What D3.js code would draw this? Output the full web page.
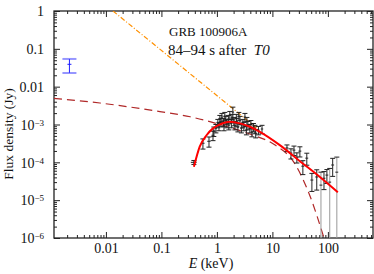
<!DOCTYPE html>
<meta charset="UTF-8">
<style>
    body { margin: 0; background: #fff; }
    svg text { font-family: "Liberation Serif", "Times New Roman", serif !important; fill: #111; }
</style>
<svg width="374" height="274"></svg>
<script src="https://cdn.jsdelivr.net/npm/d3@7"></script>
<script>

// X-ray / gamma-ray spectral points (keV, Jy)
var energy = [0.385, 0.56, 0.72, 0.85, 0.88, 0.96, 1.04, 1.09, 1.13, 1.18,
              1.23, 1.31, 1.34, 1.39, 1.45, 1.51, 1.61, 1.64, 1.71, 1.82,
              1.86, 1.94, 2.02, 2.11, 2.24, 2.29, 2.39, 2.49, 2.6, 2.76,
              2.94, 3.06, 3.2, 3.4, 3.47, 3.62, 3.93, 4.1, 4.27, 4.55,
              4.84, 5.0, 5.6, 6.5,
              18.3, 21.6, 24.5, 27.6, 31.3, 35.4, 41.7, 51.5, 63, 75,
              85, 96, 108, 122, 145];
var flux = [1.0e-4, 3.2e-4, 3.6e-4, 5.2e-4, 6.7e-4, 8.0e-4, 1.09e-3, 9.1e-4, 1.39e-3, 1.16e-3,
            1.57e-3, 1.16e-3, 9.1e-4, 1.67e-3, 1.31e-3, 1.09e-3, 1.39e-3, 9.6e-4, 1.77e-3, 1.09e-3,
            1.48e-3, 2.13e-3, 1.23e-3, 9.6e-4, 1.48e-3, 1.16e-3, 8.5e-4, 1.67e-3, 1.31e-3, 8.0e-4,
            1.09e-3, 9.1e-4, 1.57e-3, 7.1e-4, 1.23e-3, 9.6e-4, 8.0e-4, 1.02e-3, 6.3e-4, 8.5e-4,
            7.6e-4, 5.9e-4, 7.1e-4, 7.6e-4,
            2.4e-4, 1.75e-4, 2.1e-4, 1.37e-4, 1.98e-4, 7.9e-5, 1.29e-4, 3.4e-5, 4.1e-5, 2.5e-5,
            3.8e-5, 4.6e-5, 3.0e-5, 8.5e-5, 5.5e-5];
// relative 1-sigma flux errors
var fluxErr = [0.12, 0.3, 0.3, 0.28, 0.28, 0.25, 0.25, 0.25, 0.25, 0.25,
               0.25, 0.25, 0.25, 0.25, 0.25, 0.25, 0.25, 0.25, 0.25, 0.25,
               0.25, 0.35, 0.25, 0.25, 0.25, 0.25, 0.25, 0.25, 0.25, 0.25,
               0.25, 0.25, 0.25, 0.25, 0.25, 0.25, 0.25, 0.25, 0.25, 0.25,
               0.25, 0.25, 0.25, 0.25,
               0.2, 0.3, 0.28, 0.3, 0.3, 0.4, 0.35, 0.5, 0.55, 1.2,
               0.5, 0.4, 1.3, 0.5, 1.5];
// relative half-width of energy bins
var binErr = [0.12, 0.07, 0.07, 0.06, 0.06, 0.05, 0.05, 0.05, 0.05, 0.05,
              0.05, 0.05, 0.05, 0.05, 0.05, 0.05, 0.05, 0.05, 0.05, 0.05,
              0.05, 0.05, 0.05, 0.05, 0.05, 0.05, 0.05, 0.05, 0.05, 0.05,
              0.05, 0.05, 0.05, 0.05, 0.05, 0.05, 0.05, 0.05, 0.05, 0.05,
              0.05, 0.05, 0.05, 0.05,
              0.06, 0.06, 0.06, 0.06, 0.06, 0.06, 0.06, 0.06, 0.06, 0.06,
              0.06, 0.06, 0.06, 0.06, 0.06];

// optical point
var optE = [0.0022], optF = [0.039], optLo = [0.023], optHi = [0.054];

// model curves [keV, Jy]
var modelTotal = [[0.385, 7.6e-5], [0.49, 2.6e-4], [0.65, 5.2e-4], [0.85, 7.9e-4], [1.13, 1.0e-3],
                  [1.71, 1.18e-3], [2.6, 1.07e-3], [3.93, 8.7e-4], [5.95, 6.4e-4], [13.6, 2.85e-4],
                  [31.3, 1.07e-4], [71.8, 4.1e-5], [151, 1.62e-5]];
var modelCutoff = [[0.00116, 4.9e-3], [0.0078, 3.7e-3], [0.027, 2.9e-3], [0.094, 2.2e-3], [0.33, 1.6e-3],
                   [1.13, 1.0e-3], [3.9, 5.6e-4], [11, 2.9e-4], [25, 9.5e-5], [47, 1.35e-5], [85, 1e-6]];
var modelPowerLaw = [[0.0134, 1], [5.5, 7.6e-4]];

var xTickValues = [0.01, 0.1, 1, 10, 100];
var xTickLabels = ["0.01", "0.1", "1", "10", "100"];
var yTickValues = [1, 0.1, 0.01, 1e-3, 1e-4, 1e-5, 1e-6];
var yTickLabels = [["1", ""], ["0.1", ""], ["0.01", ""], ["10", "\u22123"], ["10", "\u22124"], ["10", "\u22125"], ["10", "\u22126"]];

var serif = "'Liberation Serif', 'Times New Roman', serif";

var svg = d3.select("svg"),
    margin = {top: 11, right: 1, bottom: 36, left: 54},
    width = +svg.attr("width") - margin.left - margin.right,
    height = +svg.attr("height") - margin.top - margin.bottom,
    g = svg.append("g").attr("transform", "translate(" + margin.left + "," + margin.top + ")");

var x = d3.scaleLog().domain([0.00116, 650]).range([0, width]);
var y = d3.scaleLog().domain([1e-6, 1]).range([height, 0]);

svg.append("defs").append("clipPath").attr("id", "clip")
    .append("rect").attr("width", width).attr("height", height);

// axes: minor ticks then major ticks on all four sides, pointing inward
var xMinor = x.ticks().filter(function(d) { return xTickValues.indexOf(d) < 0; });
var yMinor = y.ticks().filter(function(d) { return yTickValues.indexOf(d) < 0; });

function styleAxis(sel) {
    sel.attr("font-family", serif);
    sel.select(".domain").remove();
    sel.selectAll("line").attr("stroke", "#222");
}

g.append("g").attr("transform", "translate(0," + height + ")")
    .call(d3.axisBottom(x).tickValues(xMinor).tickSize(-3).tickFormat("")).call(styleAxis);
g.append("g").call(d3.axisTop(x).tickValues(xMinor).tickSize(-3).tickFormat("")).call(styleAxis);
g.append("g").call(d3.axisLeft(y).tickValues(yMinor).tickSize(-3).tickFormat("")).call(styleAxis);
g.append("g").attr("transform", "translate(" + width + ",0)")
    .call(d3.axisRight(y).tickValues(yMinor).tickSize(-3).tickFormat("")).call(styleAxis);

var xAxis = g.append("g").attr("transform", "translate(0," + height + ")")
    .call(d3.axisBottom(x).tickValues(xTickValues).tickSize(-6).tickPadding(5)
        .tickFormat(function(d, i) { return xTickLabels[i]; }))
    .call(styleAxis);
xAxis.selectAll("text").style("font-size", "14px").style("font-family", serif).attr("fill", "#111");

g.append("g").call(d3.axisTop(x).tickValues(xTickValues).tickSize(-6).tickFormat("")).call(styleAxis);
g.append("g").attr("transform", "translate(" + width + ",0)")
    .call(d3.axisRight(y).tickValues(yTickValues).tickSize(-6).tickFormat("")).call(styleAxis);

var yAxis = g.append("g")
    .call(d3.axisLeft(y).tickValues(yTickValues).tickSize(-6).tickFormat(""))
    .call(styleAxis);
yAxis.selectAll(".tick").append("text")
    .attr("x", -10).attr("dy", "0.34em").attr("text-anchor", "end")
    .style("font-size", "14px").style("font-family", serif).attr("fill", "#111")
    .each(function(d, i) {
        var t = d3.select(this);
        t.append("tspan").text(yTickLabels[i][0]);
        if (yTickLabels[i][1]) {
            t.append("tspan").attr("dy", "-0.45em").style("font-size", "9px").text(yTickLabels[i][1]);
        }
    });

// frame
g.append("rect").attr("width", width).attr("height", height)
    .attr("fill", "none").attr("stroke", "#222").attr("stroke-width", 1.3);

// model curves
var plot = g.append("g").attr("clip-path", "url(#clip)");
var line = d3.line()
    .x(function(d) { return x(d[0]); })
    .y(function(d) { return y(d[1]); })
    .curve(d3.curveMonotoneX);

plot.append("path").datum(modelPowerLaw)
    .attr("fill", "none").attr("stroke", "#ff9000").attr("stroke-width", 1.2)
    .attr("stroke-dasharray", "5,2,1,2").attr("d", line);

plot.append("path").datum(modelCutoff)
    .attr("fill", "none").attr("stroke", "#b02828").attr("stroke-width", 1.2)
    .attr("stroke-dasharray", "8,5").attr("d", line);

// data error bars
var pts = energy.map(function(e, i) {
    return {e: e, f: flux[i], lo: flux[i] * (1 - fluxErr[i]), hi: flux[i] * (1 + fluxErr[i]), bw: binErr[i]};
});
var cap = 2.5;
var bars = plot.append("g").selectAll("g").data(pts).enter().append("g");
bars.append("line")
    .attr("x1", function(d) { return x(d.e); }).attr("x2", function(d) { return x(d.e); })
    .attr("y1", function(d) { return y(d.hi); })
    .attr("y2", function(d) { return d.lo > 0 ? y(d.lo) : height + 5; })
    .attr("stroke", function(d) { return d.lo > 0 ? "#222" : "#999"; }).attr("stroke-width", 1);
bars.append("line")
    .attr("x1", function(d) { return x(d.e) - cap; }).attr("x2", function(d) { return x(d.e) + cap; })
    .attr("y1", function(d) { return y(d.hi); }).attr("y2", function(d) { return y(d.hi); })
    .attr("stroke", "#222").attr("stroke-width", 1);
bars.filter(function(d) { return d.lo > 0; }).append("line")
    .attr("x1", function(d) { return x(d.e) - cap; }).attr("x2", function(d) { return x(d.e) + cap; })
    .attr("y1", function(d) { return y(d.lo); }).attr("y2", function(d) { return y(d.lo); })
    .attr("stroke", "#222").attr("stroke-width", 1);
bars.append("line")
    .attr("x1", function(d) { return x(d.e * (1 - d.bw)); }).attr("x2", function(d) { return x(d.e * (1 + d.bw)); })
    .attr("y1", function(d) { return y(d.f); }).attr("y2", function(d) { return y(d.f); })
    .attr("stroke", "#222").attr("stroke-width", 1);

plot.append("path").datum(modelTotal)
    .attr("fill", "none").attr("stroke", "#ff0000").attr("stroke-width", 2)
    .attr("stroke-linejoin", "round").attr("d", line);

// optical point
optE.forEach(function(e, i) {
    var cx = x(e);
    plot.append("line").attr("x1", cx).attr("x2", cx).attr("y1", y(optHi[i])).attr("y2", y(optLo[i]))
        .attr("stroke", "#2020ff").attr("stroke-width", 1);
    [optHi[i], optLo[i]].forEach(function(v) {
        plot.append("line").attr("x1", cx - 7).attr("x2", cx + 7).attr("y1", y(v)).attr("y2", y(v))
            .attr("stroke", "#4040ff").attr("stroke-opacity", 0.55).attr("stroke-width", 2);
    });
    plot.append("line").attr("x1", cx - 2).attr("x2", cx + 2).attr("y1", y(optF[i])).attr("y2", y(optF[i]))
        .attr("stroke", "#2020ff").attr("stroke-width", 1);
});

// annotations
g.append("text").attr("x", 115).attr("y", 25).style("font-size", "13px").style("font-family", serif)
    .text("GRB 100906A");
var t2 = g.append("text").attr("x", 114).attr("y", 44).style("font-size", "15px").style("font-family", serif);
t2.append("tspan").text("84\u201394 s after \u00a0");
t2.append("tspan").style("font-style", "italic").text("T0");

// axis titles
var xt = svg.append("text").attr("x", 211).attr("y", 268).attr("text-anchor", "middle")
    .style("font-size", "14px").style("font-family", serif);
xt.append("tspan").style("font-style", "italic").text("E");
xt.append("tspan").text(" (keV)");

svg.append("text").attr("transform", "translate(13,134) rotate(-90)")
    .attr("text-anchor", "middle").style("font-size", "13.5px").style("font-family", serif)
    .text("Flux density (Jy)");

</script>
